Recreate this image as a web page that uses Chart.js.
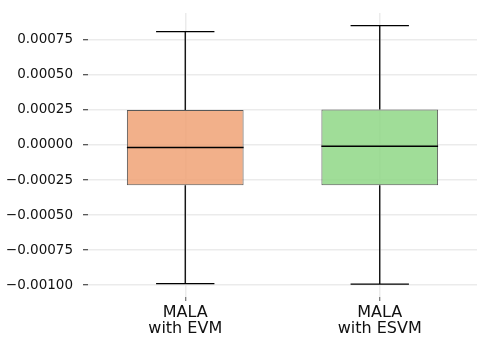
<!DOCTYPE html>
<html>
<head>
<meta charset="utf-8">
<script src="https://cdn.jsdelivr.net/npm/chart.js@4/dist/chart.umd.min.js"></script>
<style>
  html, body { margin: 0; padding: 0; background: #ffffff; }
  #wrap { width: 490px; height: 348px; }
</style>
</head>
<body>
<div id="wrap"><canvas id="boxChart" width="490" height="348"></canvas></div>
<script>
// box statistics
const categories = [['MALA', 'with EVM'], ['MALA', 'with ESVM']];
const whiskerLow = [-0.000988, -0.000992];
const q1 = [-0.000288, -0.000288];
const median = [-0.000018, -0.000009];
const q3 = [0.000249, 0.000253];
const whiskerHigh = [0.000808, 0.000851];
const boxColors = ['rgba(240, 162, 117, 0.85)', 'rgba(143, 215, 134, 0.85)'];

const yMin = -0.001084;
const yMax = 0.000941;
const yStep = 0.00025;

const fmt = v => {
    const s = Math.abs(v).toFixed(5);
    return v < -1e-12 ? '\u2212' + s : s;
};

// whiskers, caps and median lines, placed via the chart scales
const boxPlotLines = {
    id: 'boxPlotLines',
    afterDatasetsDraw(chart) {
        const ctx = chart.ctx;
        const y = chart.scales.y;
        const meta = chart.getDatasetMeta(0);
        ctx.save();
        ctx.strokeStyle = '#000000';
        meta.data.forEach((bar, i) => {
            const cx = bar.x;
            const half = bar.width / 2;
            const capHalf = bar.width / 4;
            const yHi = y.getPixelForValue(whiskerHigh[i]);
            const yLo = y.getPixelForValue(whiskerLow[i]);
            const yQ1 = y.getPixelForValue(q1[i]);
            const yQ3 = y.getPixelForValue(q3[i]);
            const yMed = y.getPixelForValue(median[i]);

            ctx.lineWidth = 1.3;
            ctx.beginPath();
            ctx.moveTo(cx, yQ3); ctx.lineTo(cx, yHi);
            ctx.moveTo(cx, yQ1); ctx.lineTo(cx, yLo);
            ctx.moveTo(cx - capHalf, yHi); ctx.lineTo(cx + capHalf, yHi);
            ctx.moveTo(cx - capHalf, yLo); ctx.lineTo(cx + capHalf, yLo);
            ctx.stroke();

            ctx.lineWidth = 1.5;
            ctx.beginPath();
            ctx.moveTo(cx - half, yMed); ctx.lineTo(cx + half, yMed);
            ctx.stroke();
        });
        ctx.restore();
    }
};

new Chart(document.getElementById('boxChart'), {
    type: 'bar',
    data: {
        labels: categories,
        datasets: [{
            data: q1.map((v, i) => [v, q3[i]]),
            backgroundColor: boxColors,
            borderColor: 'rgba(50, 50, 50, 0.8)',
            borderWidth: 1,
            borderSkipped: false,
            barPercentage: 0.6,
            categoryPercentage: 1.0
        }]
    },
    options: {
        responsive: false,
        animation: false,
        layout: { padding: { top: 13, right: 13, left: 0, bottom: 0 } },
        plugins: {
            legend: { display: false },
            tooltip: { enabled: false }
        },
        scales: {
            x: {
                offset: true,
                border: { display: false },
                grid: {
                    offset: false,
                    color: '#ebebeb',
                    lineWidth: 1.5,
                    tickColor: '#555555',
                    tickLength: 4,
                    tickWidth: 1
                },
                ticks: {
                    color: '#111111',
                    padding: 3,
                    maxRotation: 0,
                    font: { family: 'DejaVu Sans', size: 16, lineHeight: 1.05 }
                },
                afterFit(scale) { scale.height = 51; }
            },
            y: {
                min: yMin,
                max: yMax,
                border: { display: false },
                grid: {
                    color: '#ebebeb',
                    lineWidth: 1.5,
                    tickColor: '#222222',
                    tickLength: 5,
                    tickWidth: 1
                },
                ticks: {
                    stepSize: yStep,
                    includeBounds: false,
                    color: '#111111',
                    padding: 10,
                    font: { family: 'DejaVu Sans', size: 13.5, lineHeight: 0.2 },
                    callback: v => fmt(v)
                },
                afterFit(scale) { scale.width = 88; }
            }
        }
    },
    plugins: [boxPlotLines]
});
</script>
</body>
</html>
